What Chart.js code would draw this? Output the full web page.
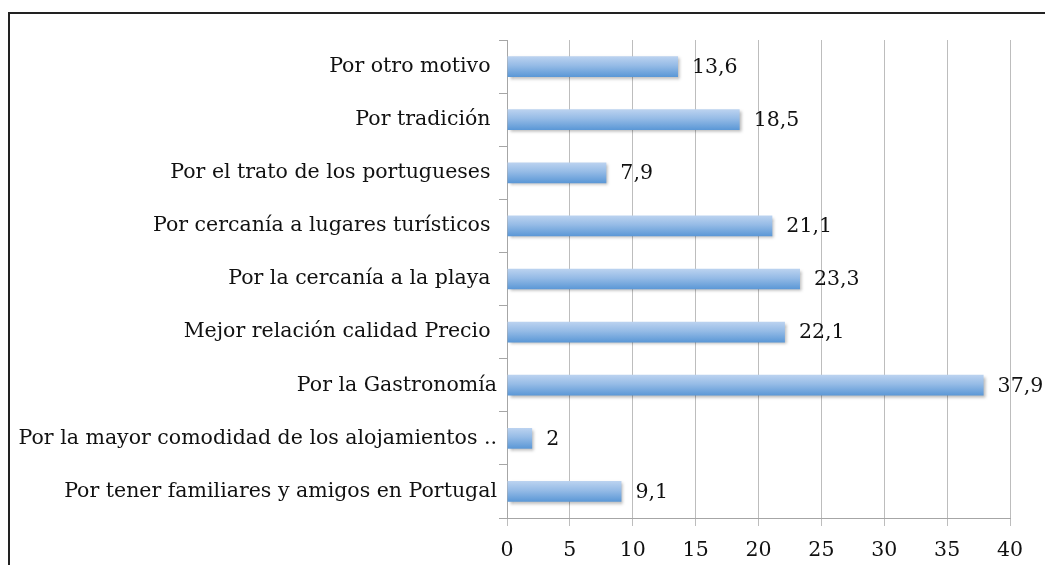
<!DOCTYPE html>
<html>
<head>
<meta charset="utf-8">
<script src="https://cdn.jsdelivr.net/npm/chart.js@4"></script>
<style>
  html, body { margin: 0; padding: 0; background: #fff; overflow: hidden; }
  #wrap { position: relative; width: 1045px; height: 565px; }
  #frame {
    position: absolute; left: 8px; top: 12px; width: 1100px; height: 600px;
    border-top: 2px solid #222; border-left: 2px solid #222;
  }
  canvas { position: absolute; left: 0; top: 0; }
</style>
</head>
<body>
<div id="wrap">
  <div id="frame"></div>
  <canvas id="motivosChart" width="1045" height="565"></canvas>
</div>
<script>
const categories = [
  'Por otro motivo ',
  'Por tradición ',
  'Por el trato de los portugueses ',
  'Por cercanía a lugares turísticos ',
  'Por la cercanía a la playa ',
  'Mejor relación calidad Precio ',
  'Por la Gastronomía',
  'Por la mayor comodidad de los alojamientos ..',
  'Por tener familiares y amigos en Portugal',
];
const values = [13.6, 18.5, 7.9, 21.1, 23.3, 22.1, 37.9, 2, 9.1];
const xTicks = [0, 5, 10, 15, 20, 25, 30, 35, 40];

const labelFont = { family: '"DejaVu Serif", serif', size: 20.5 };

// vertical gradient + soft shadow on each bar
const barStyle = {
  id: 'barStyle',
  beforeDatasetDraw(chart, args) {
    const c = chart.ctx;
    args.meta.data.forEach((bar) => {
      const h = bar.height;
      const g = c.createLinearGradient(0, bar.y - h / 2, 0, bar.y + h / 2);
      g.addColorStop(0, '#bcd3f0');
      g.addColorStop(0.45, '#95bbe6');
      g.addColorStop(1, '#5a97d6');
      bar.options.backgroundColor = g;
    });
    c.save();
    c.shadowColor = 'rgba(0,0,0,0.28)';
    c.shadowBlur = 3;
    c.shadowOffsetX = 2;
    c.shadowOffsetY = 2;
  },
  afterDatasetDraw(chart) {
    chart.ctx.restore();
  },
};

// value labels to the right of each bar, decimal comma
const valueLabels = {
  id: 'valueLabels',
  afterDatasetsDraw(chart) {
    const c = chart.ctx;
    const meta = chart.getDatasetMeta(0);
    c.save();
    c.font = labelFont.size + 'px ' + labelFont.family;
    c.fillStyle = '#111';
    c.textAlign = 'left';
    c.textBaseline = 'middle';
    meta.data.forEach((bar, i) => {
      const txt = String(values[i]).replace('.', ',');
      c.fillText(txt, bar.x + 14, bar.y + 1);
    });
    c.restore();
  },
};

const ctx = document.getElementById('motivosChart').getContext('2d');
new Chart(ctx, {
  type: 'bar',
  data: {
    labels: categories,
    datasets: [{
      data: values,
      // function so every bar gets its own options object
      backgroundColor: () => '#95bbe6',
      borderWidth: 0,
      categoryPercentage: 1,
      barPercentage: 0.39,
    }],
  },
  options: {
    indexAxis: 'y',
    responsive: false,
    animation: false,
    layout: { padding: { top: 40, right: 35, left: 0, bottom: 0 } },
    plugins: { legend: { display: false }, tooltip: { enabled: false } },
    scales: {
      x: {
        min: 0,
        max: 40,
        afterBuildTicks(scale) {
          scale.ticks = xTicks.map((v) => ({ value: v }));
        },
        afterFit(scale) { scale.height = 47; },
        grid: { color: '#bdbdbd', tickLength: 8, drawTicks: true },
        border: { color: '#a6a6a6' },
        ticks: { color: '#111', font: labelFont, padding: 12 },
      },
      y: {
        afterFit(scale) { scale.width = 507; },
        grid: { drawOnChartArea: false, tickLength: 8, color: '#a6a6a6', offset: true },
        border: { color: '#a6a6a6' },
        ticks: { color: '#111', font: labelFont, padding: 2, autoSkip: false },
      },
    },
  },
  plugins: [barStyle, valueLabels],
});
</script>
</body>
</html>
